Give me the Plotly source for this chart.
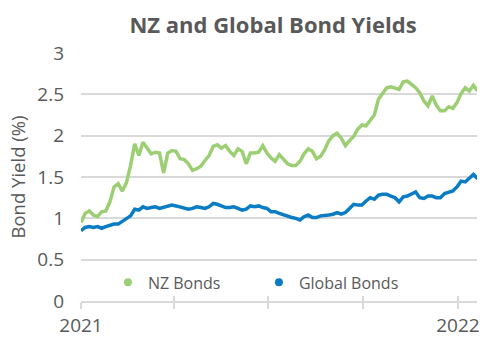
import pandas as pd
import plotly.graph_objects as go

dates = pd.date_range("2021-01-01", periods=97, freq="4D")

nz_bonds = [0.95, 1.06, 1.09, 1.04, 1.02, 1.08, 1.09, 1.20, 1.38, 1.42,
            1.33, 1.43, 1.64, 1.90, 1.76, 1.92, 1.85, 1.78, 1.80, 1.79,
            1.55, 1.79, 1.82, 1.81, 1.72, 1.71, 1.66, 1.58, 1.60, 1.63,
            1.70, 1.76, 1.87, 1.89, 1.85, 1.88, 1.81, 1.76, 1.84, 1.81,
            1.66, 1.79, 1.79, 1.80, 1.88, 1.79, 1.73, 1.69, 1.77, 1.71,
            1.66, 1.64, 1.64, 1.69, 1.78, 1.84, 1.81, 1.72, 1.75, 1.83,
            1.94, 2.00, 2.03, 1.97, 1.88, 1.94, 1.99, 2.08, 2.13, 2.12,
            2.18, 2.25, 2.44, 2.52, 2.58, 2.59, 2.58, 2.56, 2.65, 2.66,
            2.62, 2.58, 2.52, 2.42, 2.36, 2.48, 2.37, 2.30, 2.30, 2.35,
            2.33, 2.40, 2.51, 2.58, 2.54, 2.61, 2.54]

global_bonds = [0.85, 0.89, 0.90, 0.89, 0.90, 0.88, 0.90, 0.92, 0.93, 0.93,
                0.96, 0.99, 1.03, 1.11, 1.10, 1.14, 1.12, 1.13, 1.14, 1.12,
                1.13, 1.15, 1.16, 1.15, 1.14, 1.13, 1.11, 1.12, 1.14, 1.13,
                1.12, 1.14, 1.18, 1.17, 1.15, 1.13, 1.13, 1.14, 1.12, 1.10,
                1.11, 1.15, 1.14, 1.15, 1.13, 1.12, 1.08, 1.08, 1.06, 1.04,
                1.02, 1.01, 1.00, 0.98, 1.02, 1.04, 1.01, 1.01, 1.03, 1.03,
                1.04, 1.05, 1.07, 1.05, 1.07, 1.12, 1.17, 1.16, 1.16, 1.21,
                1.25, 1.23, 1.28, 1.29, 1.29, 1.27, 1.25, 1.20, 1.26, 1.27,
                1.30, 1.32, 1.25, 1.24, 1.27, 1.27, 1.25, 1.25, 1.30, 1.31,
                1.33, 1.38, 1.45, 1.44, 1.48, 1.53, 1.48]

x_tick_vals = ["2021-01-01", "2021-04-01", "2021-07-01", "2021-10-01", "2022-01-01"]
x_tick_text = ["2021", "", "", "", "2022"]
y_tick_vals = [0, 0.5, 1, 1.5, 2, 2.5, 3]
y_tick_text = ["0", "0.5", "1", "1.5", "2", "2.5", "3"]

green = "#9CCF74"
blue = "#0A7CC4"
grey_text = "#595959"
grid = "#D9D9D9"
font_family = "'Open Sans', Lato, sans-serif"

fig = go.Figure()
fig.add_trace(go.Scatter(x=dates, y=nz_bonds, mode="lines", line=dict(color=green, width=3.5),
                         name="NZ Bonds", showlegend=False))
fig.add_trace(go.Scatter(x=dates, y=global_bonds, mode="lines", line=dict(color=blue, width=3.5),
                         name="Global Bonds", showlegend=False))
fig.add_trace(go.Scatter(x=[None], y=[None], mode="markers", marker=dict(color=green, size=8),
                         name="NZ Bonds"))
fig.add_trace(go.Scatter(x=[None], y=[None], mode="markers", marker=dict(color=blue, size=8),
                         name="Global Bonds"))
fig.add_trace(go.Scatter(x=[None], y=[None], xaxis="x2", showlegend=False, hoverinfo="skip"))

x_range = ["2021-01-01", "2022-01-19 10:00"]

fig.update_layout(
    width=501, height=343,
    margin=dict(l=81, r=24, t=53, b=42),
    paper_bgcolor="white", plot_bgcolor="white",
    font=dict(family=font_family, color=grey_text, size=18),
    title=dict(text="<b>NZ and Global Bond Yields</b>", x=0.545, xanchor="center",
               y=0.925, yanchor="middle", font=dict(size=22, color=grey_text, family=font_family)),
    showlegend=True,
    legend=dict(orientation="h", x=0.068, xanchor="left", y=0.075, yanchor="middle",
                bgcolor="rgba(0,0,0,0)", font=dict(size=16, color=grey_text),
                entrywidth=106, entrywidthmode="pixels", itemwidth=30),
    xaxis=dict(range=x_range, type="date", tickvals=x_tick_vals, ticktext=x_tick_text,
               automargin=False,
               showgrid=False, zeroline=False, showline=True, linecolor=grid, linewidth=1.5,
               ticks="outside", ticklen=6, tickwidth=1.5, tickcolor=grid,
               tickfont=dict(size=19, color=grey_text)),
    xaxis2=dict(range=x_range, type="date", overlaying="x", anchor="y", tickvals=x_tick_vals,
                automargin=False,
                showgrid=False, zeroline=False, showline=False, showticklabels=False,
                ticks="inside", ticklen=5, tickwidth=1.5, tickcolor=grid),
    yaxis=dict(range=[0, 3], tickvals=y_tick_vals, ticktext=y_tick_text,
               automargin=False,
               showgrid=True, gridcolor=grid, gridwidth=1.5, zeroline=False, showline=False,
               ticks="", ticklabelstandoff=16,
               title=dict(text="Bond Yield (%)", font=dict(size=18.5, color=grey_text), standoff=6),
               tickfont=dict(size=19, color=grey_text)),
)

fig.write_html("out.html")
